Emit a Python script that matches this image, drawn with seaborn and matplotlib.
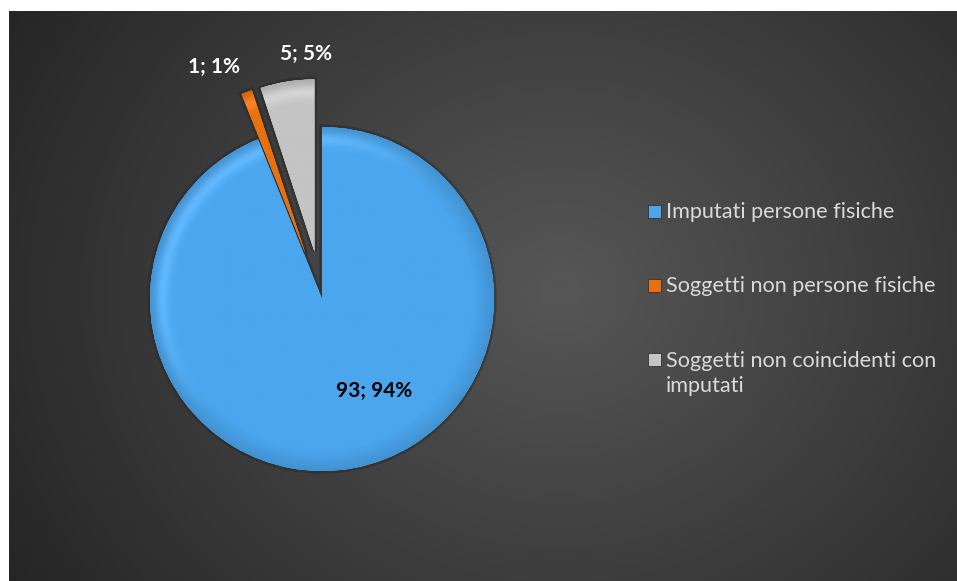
import numpy as np
import matplotlib
matplotlib.use("Agg")
import matplotlib.pyplot as plt
import seaborn as sns
from matplotlib.patches import Rectangle
import matplotlib.patheffects as pe
from matplotlib.colors import to_rgb

categories = ["Imputati persone fisiche", "Soggetti non persone fisiche",
              "Soggetti non coincidenti con\nimputati"]
values = [93, 1, 5]
colors = ["#4BA6EE", "#E8700F", "#C4C4C4"]
explode = [0, 0.28, 0.28]

sns.set_theme(style="white")
plt.rcParams['font.family'] = ['Lato', 'DejaVu Sans']

W, H = 957, 581
fig = plt.figure(figsize=(W / 100, H / 100), dpi=100)
fig.patch.set_facecolor("white")

# background panel with radial gradient
bx0, by0, bx1, by1 = 9, 11, 957, 581
bg = fig.add_axes([bx0 / W, 1 - by1 / H, (bx1 - bx0) / W, (by1 - by0) / H])
yy, xx = np.mgrid[0:by1 - by0, 0:bx1 - bx0]
cx, cy = 560 - bx0, 290 - by0
d = np.sqrt(((xx - cx) / 600.0) ** 2 + ((yy - cy) / 520.0) ** 2)
v = np.clip(0.34 - 0.18 * d, 0.13, 0.4)
img = np.dstack([v, v, v])
bg.imshow(img, aspect="auto", interpolation="bilinear")
bg.axis("off")

# pie axes
PCX, PCY, R = 322, 299, 172
ax = fig.add_axes([0, 0, 1, 1])
ax.patch.set_alpha(0)
wedges, _ = ax.pie(values, colors=colors, startangle=90, counterclock=False,
                   explode=explode, radius=1,
                   wedgeprops=dict(linewidth=0))
ax.set_xlim(-PCX / R, (W - PCX) / R)
ax.set_ylim(-(H - PCY) / R, PCY / R)
ax.set_aspect("equal")
ax.axis("off")

# soft dark outline (shadow) + bevel shading for each wedge
for w, col in zip(wedges, colors):
    w.set_path_effects([pe.withStroke(linewidth=4, foreground="#262626", alpha=0.45),
                        pe.Normal()])
    cxw, cyw = w.center
    n = 400
    gx = np.linspace(cxw - 1.05, cxw + 1.05, n)
    gy = np.linspace(cyw - 1.05, cyw + 1.05, n)
    GX, GY = np.meshgrid(gx, gy)
    rr = np.sqrt((GX - cxw) ** 2 + (GY - cyw) ** 2)
    base = np.array(to_rgb(col))
    f = 1.0 - 0.12 * np.clip((rr - 0.88) / 0.12, 0, 1)
    hl = 0.10 * np.exp(-((rr - 0.93) / 0.04) ** 2) * np.clip(
        (-(GX - cxw) + (GY - cyw)) / np.maximum(rr, 1e-6), 0, 1)
    rgb = np.clip(base[None, None, :] * f[..., None] + hl[..., None], 0, 1)
    im = ax.imshow(rgb, extent=[gx[0], gx[-1], gy[0], gy[-1]], origin="lower",
                   interpolation="bilinear", zorder=w.get_zorder() + 0.1)
    im.set_clip_path(w)

total = sum(values)
labels = [f"{v}; {round(v / total * 100)}%" for v in values]
label_pos = [((374 - PCX) / R, (PCY - 391) / R),
             ((214 - PCX) / R, (PCY - 67) / R),
             ((306 - PCX) / R, (PCY - 54) / R)]
label_col = ["black", "white", "white"]
for lab, (x, y), c in zip(labels, label_pos, label_col):
    ax.text(x, y, lab, ha="center", va="center", fontsize=15,
            fontweight="bold", color=c, zorder=10)

# legend
leg_y = [211, 285, 359]
LINE_PX = 26
for cat, col, y in zip(categories, colors, leg_y):
    fig.patches.append(Rectangle((648 / W, 1 - (y + 6.5) / H), 13 / W, 13 / H,
                                 transform=fig.transFigure, facecolor=col,
                                 edgecolor="#333333", linewidth=0.6))
    nlines = cat.count("\n") + 1
    base_y = y + 7 + (nlines - 1) * LINE_PX
    fig.text(666 / W, 1 - base_y / H, cat, ha="left", va="baseline",
             fontsize=15.6, color="#D9D9D9", linespacing=1.3)

fig.savefig("out.png", dpi=100, facecolor="white")
